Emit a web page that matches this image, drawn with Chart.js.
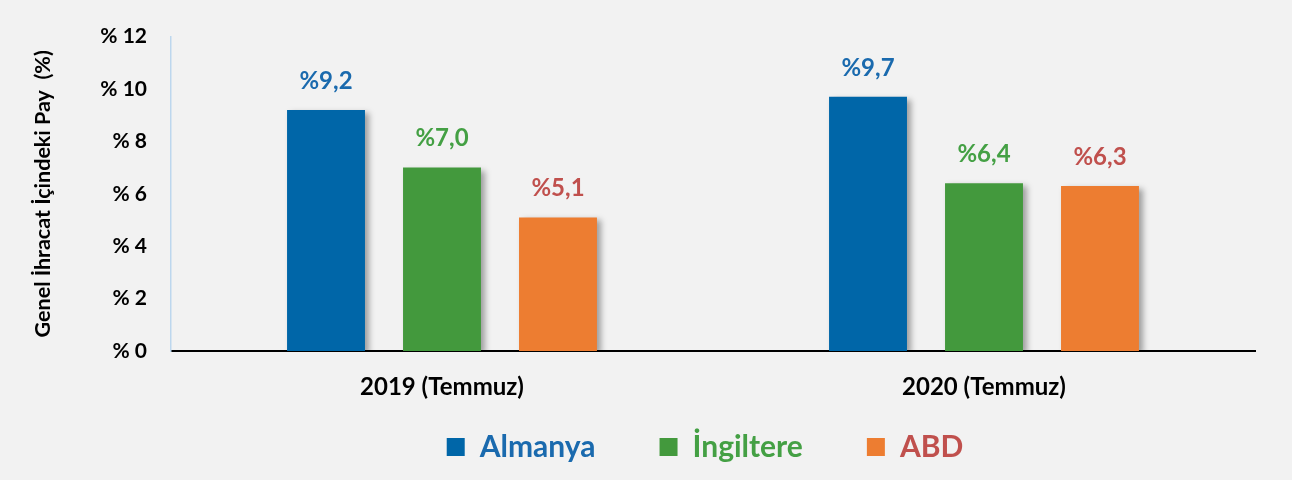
<!DOCTYPE html>
<html>
<head>
<meta charset="utf-8">
<script src="https://cdn.jsdelivr.net/npm/chart.js@4"></script>
<style>
  body { margin: 0; background: #fff; }
  #wrap { width: 1292px; height: 480px; background: #f2f2f2; }
</style>
</head>
<body>
<div id="wrap"><canvas id="chart"></canvas></div>
<script>
'use strict';

// data
var periods = ['2019 (Temmuz)', '2020 (Temmuz)'];
var almanya = [9.2, 9.7];
var ingiltere = [7.0, 6.4];
var abd = [5.1, 6.3];
var yTicks = [0, 2, 4, 6, 8, 10, 12];

var FONT = "Lato, 'Open Sans', sans-serif";

// bar shadow
var barShadow = {
  id: 'barShadow',
  beforeDatasetsDraw: function(chart) {
    var ctx = chart.ctx;
    ctx.save();
    ctx.shadowColor = 'rgba(0,0,0,0.35)';
    ctx.shadowBlur = 6;
    ctx.shadowOffsetX = 4;
    ctx.shadowOffsetY = 3;
  },
  afterDatasetsDraw: function(chart) {
    chart.ctx.restore();
  }
};

// value labels above bars
var valueLabels = {
  id: 'valueLabels',
  afterDatasetsDraw: function(chart) {
    var ctx = chart.ctx;
    ctx.save();
    ctx.font = 'bold 24px ' + FONT;
    ctx.textAlign = 'center';
    ctx.textBaseline = 'middle';
    chart.data.datasets.forEach(function(ds, i) {
      var meta = chart.getDatasetMeta(i);
      ctx.fillStyle = ds.labelColor;
      meta.data.forEach(function(bar, j) {
        var txt = '%' + ds.data[j].toFixed(1).replace('.', ',');
        ctx.fillText(txt, bar.x, bar.y - 29);
      });
    });
    ctx.restore();
  }
};

// legend: wide item spacing but sitting close under the axis labels,
// a bit left of the plot centre like the original
var legendShift = {
  id: 'legendShift',
  afterLayout: function(chart) {
    var lg = chart.legend;
    lg.left -= 8;
    lg.right -= 8;
    lg.top -= 43;
  }
};

var chart = new Chart(document.getElementById('chart'), {
  type: 'bar',
  data: {
    labels: periods,
    datasets: [{
      label: 'Almanya',
      data: almanya,
      backgroundColor: '#0066a8',
      labelColor: '#1a6aae'
    }, {
      label: 'İngiltere',
      data: ingiltere,
      backgroundColor: '#43993d',
      labelColor: '#44a044'
    }, {
      label: 'ABD',
      data: abd,
      backgroundColor: '#ed7d31',
      labelColor: '#c0504d'
    }]
  },
  options: {
    responsive: true,
    maintainAspectRatio: false,
    animation: false,
    categoryPercentage: 0.642,
    barPercentage: 0.672,
    layout: {
      padding: { top: 32, left: 20, right: 37, bottom: 0 }
    },
    scales: {
      x: {
        grid: { display: false, drawTicks: false },
        border: { color: '#000', width: 2 },
        ticks: {
          color: '#000',
          padding: 22,
          font: { family: FONT, size: 24, weight: 'bold' }
        },
        afterFit: function(scale) { scale.height = 60; }
      },
      y: {
        min: 0,
        max: 12,
        afterBuildTicks: function(scale) {
          scale.ticks = yTicks.map(function(v) { return { value: v }; });
        },
        grid: { display: false, drawTicks: false },
        border: { color: '#bdd7ee', width: 1.5 },
        ticks: {
          color: '#000',
          padding: 24,
          font: { family: FONT, size: 21, weight: 'bold' },
          callback: function(v) { return '% ' + v; }
        },
        title: {
          display: true,
          text: 'Genel İhracat İçindeki Pay  (%)',
          color: '#000',
          padding: { top: 10, bottom: 0 },
          font: { family: FONT, size: 21.5, weight: 'bold' }
        },
        afterFit: function(scale) { scale.width = 151; }
      }
    },
    plugins: {
      legend: {
        position: 'bottom',
        fullSize: false,
        maxHeight: 69,
        labels: {
          boxWidth: 18,
          boxHeight: 18,
          padding: 64,
          font: { family: FONT, size: 30, weight: 'bold' },
          generateLabels: function(chart) {
            return chart.data.datasets.map(function(ds, i) {
              return {
                text: ds.label,
                fillStyle: ds.backgroundColor,
                strokeStyle: ds.backgroundColor,
                lineWidth: 0,
                fontColor: ds.labelColor,
                datasetIndex: i
              };
            });
          }
        }
      },
      tooltip: { enabled: false }
    }
  },
  plugins: [barShadow, valueLabels, legendShift]
});
</script>
</body>
</html>
